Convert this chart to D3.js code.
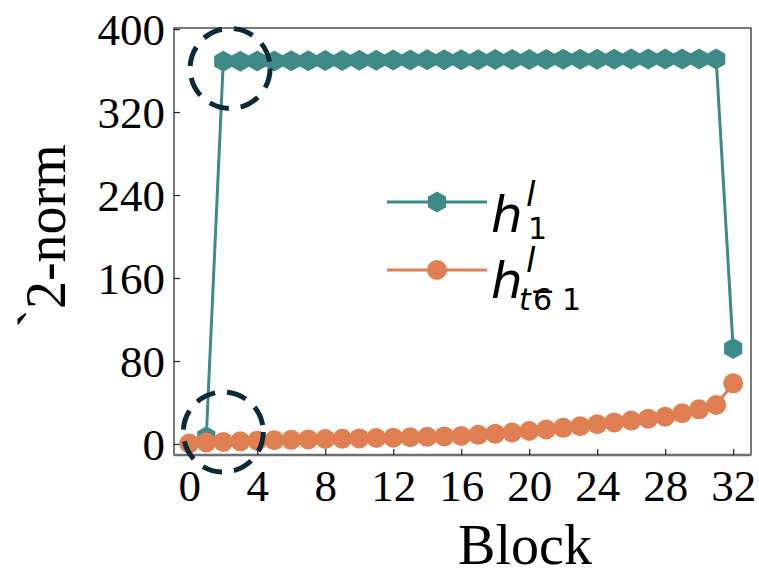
<!DOCTYPE html>
<html>
<head>
<meta charset="utf-8">
<script src="https://cdn.jsdelivr.net/npm/d3@7"></script>
<style>
  body { margin: 0; background: #fff; }
  svg { display: block; }
</style>
</head>
<body>
<script>
// chart size
var w = 759, h = 574;
var margin = {top: 28, right: 8, bottom: 119, left: 174};

// data: l2-norm per block
var blocksH1 = [1, 2, 3, 4, 5, 6, 7, 8, 9, 10, 11, 12, 13, 14, 15, 16, 17, 18, 19, 20, 21, 22, 23, 24, 25, 26, 27, 28, 29, 30, 31, 32];
var normH1 = [7, 369, 369, 369.2, 369.3, 369.4, 369.5, 369.6, 369.7, 369.8, 370, 370.1, 370.2, 370.3, 370.4, 370.5, 370.5, 370.6, 370.6, 370.7, 370.7, 370.8, 370.8, 370.9, 370.9, 371, 371, 371, 371, 371, 371, 92];
var blocksHt = [0, 1, 2, 3, 4, 5, 6, 7, 8, 9, 10, 11, 12, 13, 14, 15, 16, 17, 18, 19, 20, 21, 22, 23, 24, 25, 26, 27, 28, 29, 30, 31, 32];
var normHt = [0.5, 1.5, 2.0, 2.6, 3.2, 3.6, 4.0, 4.4, 4.8, 5.1, 5.4, 5.8, 6.1, 6.5, 6.9, 7.3, 7.7, 8.8, 9.9, 11.1, 12.5, 14, 15.6, 17.2, 19, 20.8, 22.6, 24.4, 26.3, 29.6, 33.4, 37.6, 58.5];
var xTicks = [0, 4, 8, 12, 16, 20, 24, 28, 32];
var yTicks = [0, 80, 160, 240, 320, 400];
// dashed highlight circles (block, value)
var highlights = [[2.4, 362], [2.0, 11.5]];

var teal = "#3d8a87", orange = "#e08052", navy = "#0b2a3a";

var svg = d3.select("body").append("svg")
  .attr("width", w)
  .attr("height", h);

var x = d3.scaleLinear().domain([-0.9, 33.05]).range([margin.left, w - margin.right]);
var y = d3.scaleLinear().domain([-10.6, 401]).range([h - margin.bottom, margin.top]);

var serif = "'Liberation Serif', 'Times New Roman', serif";

// frame
svg.append("rect")
  .attr("x", margin.left).attr("y", margin.top)
  .attr("width", w - margin.right - margin.left)
  .attr("height", h - margin.bottom - margin.top)
  .attr("fill", "none").attr("stroke", "#222").attr("stroke-width", 1.2);
svg.append("line")
  .attr("x1", margin.left).attr("x2", w - margin.right)
  .attr("y1", h - margin.bottom).attr("y2", h - margin.bottom)
  .attr("stroke", "#707070").attr("stroke-width", 2.5);

// axes, ticks pointing inward
var xAxis = svg.append("g")
  .attr("transform", "translate(0," + (h - margin.bottom) + ")")
  .call(d3.axisBottom(x).tickValues(xTicks).tickSizeInner(-6).tickSizeOuter(0).tickPadding(12));
var yAxis = svg.append("g")
  .attr("transform", "translate(" + margin.left + ",0)")
  .call(d3.axisLeft(y).tickValues(yTicks).tickSizeInner(-6).tickSizeOuter(0).tickPadding(9));
xAxis.select(".domain").remove();
yAxis.select(".domain").remove();
svg.selectAll(".tick line").attr("stroke", "#222").attr("stroke-width", 1.2);
xAxis.selectAll("text").attr("font-family", serif).attr("font-size", 45).attr("fill", "#000").attr("dy", "0.75em");
yAxis.selectAll("text").attr("font-family", serif).attr("font-size", 45).attr("fill", "#000").attr("dy", "0.35em");

// axis titles
svg.append("text")
  .attr("x", 525).attr("y", 564)
  .attr("text-anchor", "middle")
  .attr("font-family", serif).attr("font-size", 56)
  .text("Block");
var yl = svg.append("text")
  .attr("transform", "translate(65,236) rotate(-90)")
  .attr("text-anchor", "middle")
  .attr("font-family", serif).attr("font-size", 56);
yl.append("tspan").attr("dy", -8).text("`");
yl.append("tspan").attr("dy", 8).text("2-norm");

// hexagon symbol, pointy top
var hex = d3.range(6).map(function(i) {
  var a = Math.PI / 3 * i - Math.PI / 2;
  return [10.5 * Math.cos(a), 10.5 * Math.sin(a)];
});
var hexPath = "M" + hex.join("L") + "Z";

var line = d3.line();

// h_1 series
svg.append("path")
  .attr("d", line(blocksH1.map(function(b, i) { return [x(b), y(normH1[i])]; })))
  .attr("fill", "none").attr("stroke", teal).attr("stroke-width", 3);
svg.selectAll("path.hex")
  .data(blocksH1)
  .enter().append("path")
  .attr("class", "hex")
  .attr("d", hexPath)
  .attr("transform", function(d, i) { return "translate(" + x(d) + "," + y(normH1[i]) + ")"; })
  .attr("fill", teal);

// h_t series
svg.append("path")
  .attr("d", line(blocksHt.map(function(b, i) { return [x(b), y(normHt[i])]; })))
  .attr("fill", "none").attr("stroke", orange).attr("stroke-width", 3);
svg.selectAll("circle.dot")
  .data(blocksHt)
  .enter().append("circle")
  .attr("class", "dot")
  .attr("cx", function(d) { return x(d); })
  .attr("cy", function(d, i) { return y(normHt[i]); })
  .attr("r", 10)
  .attr("fill", orange);

// dashed circles
svg.selectAll("circle.hl")
  .data(highlights)
  .enter().append("circle")
  .attr("class", "hl")
  .attr("cx", function(d) { return x(d[0]); })
  .attr("cy", function(d) { return y(d[1]); })
  .attr("r", 40)
  .attr("fill", "none")
  .attr("stroke", navy).attr("stroke-width", 5)
  .attr("stroke-dasharray", "20,12");

// legend
var lg = svg.append("g");
var sans = "'DejaVu Sans', sans-serif";
[[teal, 202, "hex"], [orange, 270, "dot"]].forEach(function(e) {
  lg.append("line").attr("x1", 387).attr("x2", 487).attr("y1", e[1]).attr("y2", e[1])
    .attr("stroke", e[0]).attr("stroke-width", 3);
  if (e[2] == "hex") {
    lg.append("path").attr("d", hexPath).attr("fill", e[0])
      .attr("transform", "translate(437," + e[1] + ")");
  } else {
    lg.append("circle").attr("cx", 437).attr("cy", e[1]).attr("r", 10).attr("fill", e[0]);
  }
});
function hLabel(y0) {
  lg.append("text").attr("x", 491).attr("y", y0)
    .attr("font-family", sans).attr("font-style", "italic").attr("font-size", 50).text("h");
  lg.append("text").attr("x", 526).attr("y", y0 - 26)
    .attr("font-family", sans).attr("font-style", "italic").attr("font-size", 34).text("l");
}
hLabel(232);
lg.append("text").attr("x", 528).attr("y", 239)
  .attr("font-family", sans).attr("font-size", 30).text("1");
hLabel(298);
lg.append("text").attr("x", 519).attr("y", 310)
  .attr("font-family", sans).attr("font-style", "italic").attr("font-size", 30).text("t");
lg.append("text").attr("x", 533).attr("y", 310)
  .attr("font-family", sans).attr("font-size", 30).text("6");
lg.append("text").attr("x", 530).attr("y", 301)
  .attr("font-family", sans).attr("font-size", 30).text("\u2212");
lg.append("text").attr("x", 562).attr("y", 310)
  .attr("font-family", sans).attr("font-size", 30).text("1");
</script>
</body>
</html>
